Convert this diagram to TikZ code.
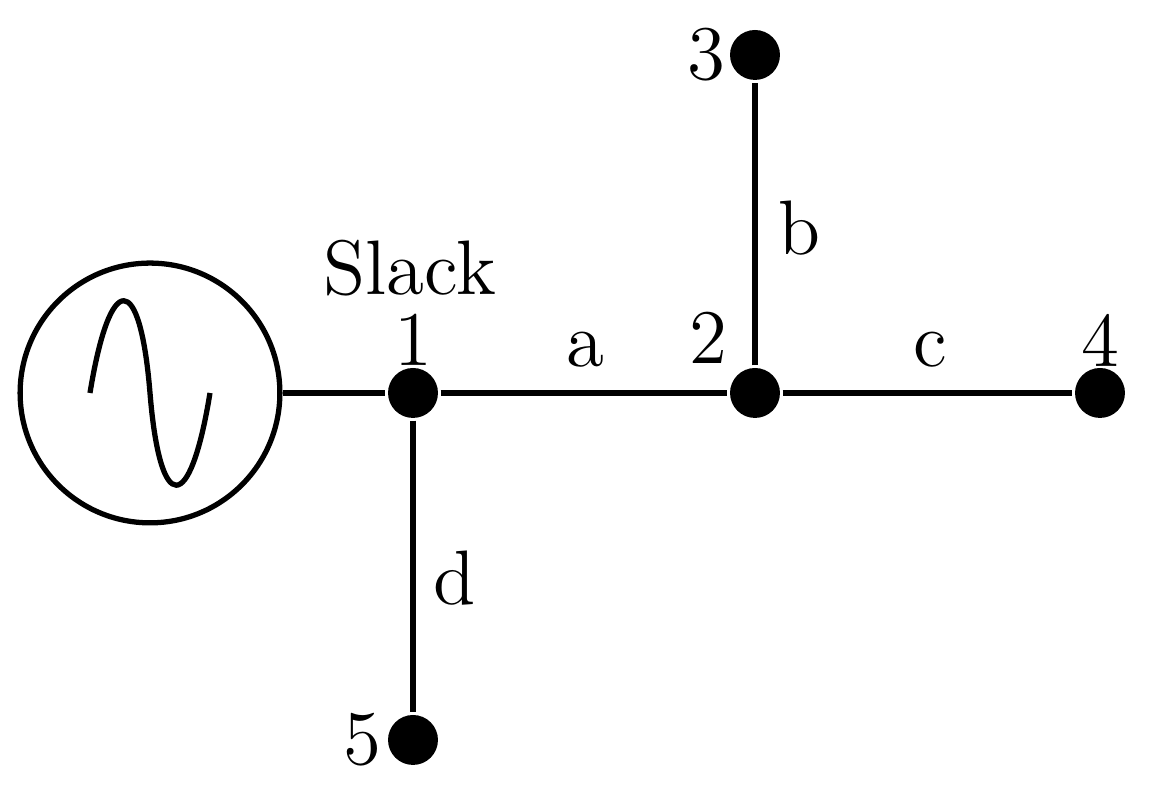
\documentclass[tikz,border=0pt]{standalone}
\begin{document}
\begin{tikzpicture}[x=0.005cm,y=-0.005cm,line width=0.75pt,
  bus/.style={circle,fill=black,inner sep=0pt,minimum size=0.25cm},
  lbl/.style={inner sep=0pt,font=\fontsize{11}{13}\selectfont}]
\useasboundingbox (0,0) rectangle (1153,786);
\node[circle,draw,line width=0.75pt,minimum size=1.3cm,inner sep=0pt] (g) at (150,393) {};
\draw (90,393) .. controls (110,270) and (140,270) .. (150,393) .. controls (160,516) and (190,516) .. (210,393);
\node[bus] (n1) at (413,393) {};
\node[bus] (n2) at (755,393) {};
\node[bus] (n3) at (755,55) {};
\node[bus] (n4) at (1100,393) {};
\node[bus] (n5) at (413,740) {};
\draw (g) -- (n1) -- (n2) -- (n4);
\draw (n2) -- (n3);
\draw (n1) -- (n5);
\node[lbl] (l1) at (413,340) {1};
\node[lbl] (l2) at (708,338) {2};
\node[lbl] (l3) at (706,55) {3};
\node[lbl] (l4) at (1100,340) {4};
\node[lbl] (l5) at (362,740) {5};
\node[lbl] (sl) at (410,268) {Slack};
\node[lbl] (la) at (585,350) {a};
\node[lbl] (lb) at (800,228) {b};
\node[lbl] (lc) at (930,350) {c};
\node[lbl] (ld) at (455,578) {d};
\end{tikzpicture}
\end{document}
